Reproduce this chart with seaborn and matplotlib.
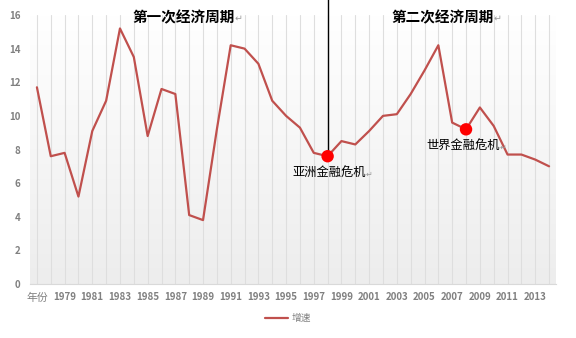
import numpy as np
import pandas as pd
import matplotlib
matplotlib.use("Agg")
import matplotlib.pyplot as plt
from matplotlib.colors import LinearSegmentedColormap
import seaborn as sns

# ---- data ----
categories = ["年份"] + [str(y) for y in range(1978, 2015)]
growth = [11.7, 7.6, 7.8, 5.2, 9.1, 10.9, 15.2, 13.5, 8.8, 11.6,
          11.3, 4.1, 3.8, 9.2, 14.2, 14.0, 13.1, 10.9, 10.0, 9.3,
          7.8, 7.6, 8.5, 8.3, 9.1, 10.0, 10.1, 11.3, 12.7, 14.2,
          9.6, 9.2, 10.5, 9.4, 7.7, 7.7, 7.4, 7.0]
series_name = "增速"
highlight_cats = ["1998", "2008"]
highlight_labels = ["亚洲金融危机", "世界金融危机"]
cycle_titles = ["第一次经济周期", "第二次经济周期"]
yticks = [0, 2, 4, 6, 8, 10, 12, 14, 16]

sns.set_theme(style="white")
plt.rcParams["font.family"] = ["Noto Sans CJK SC", "DejaVu Sans"]

W, H = 576, 338
fig = plt.figure(figsize=(W / 100, H / 100), dpi=100)
ax = fig.add_axes([30 / W, 1 - 284 / H, (556 - 30) / W, (284 - 15) / H])

df = pd.DataFrame({"pos": np.arange(len(categories)), "cat": categories, "val": growth})

# gradient background
cmap = LinearSegmentedColormap.from_list("bg", ["#ffffff", "#ededed"])
grad = np.linspace(0, 1, 256).reshape(-1, 1)
ax.imshow(grad, extent=[0, 1, 0, 1], transform=ax.transAxes, cmap=cmap,
          aspect="auto", zorder=0, origin="upper")

sns.lineplot(data=df, x="pos", y="val", ax=ax, color="#c0504d", linewidth=1.6,
             label=series_name, zorder=3)

hl = df[df["cat"].isin(highlight_cats)]
sns.scatterplot(data=hl, x="pos", y="val", ax=ax, color="#ff0000", s=80,
                edgecolor="none", zorder=5, legend=False)

# vertical divider from top to first crisis point
p0 = hl.iloc[0]
ax.plot([p0["pos"], p0["pos"]], [p0["val"], 17.2], color="black", lw=1.0,
        zorder=4, clip_on=False)

ax.set_xlim(-0.5, len(categories) - 0.5)
ax.set_ylim(0, 16)
ax.set_xticks(df["pos"])
ax.set_xticklabels([c if i % 2 == 0 else "" for i, c in enumerate(categories)])
ax.set_yticks(yticks)
ax.set_yticklabels([str(t) for t in yticks])
ax.tick_params(axis="x", length=0, pad=6, labelsize=7, labelcolor="#808080")
ax.tick_params(axis="y", length=0, pad=7, labelsize=7, labelcolor="#808080")
for lab in ax.get_xticklabels() + ax.get_yticklabels():
    lab.set_fontweight("bold")
first = ax.get_xticklabels()[0]
first.set_fontweight("normal")
first.set_fontsize(7.8)
ax.grid(axis="x", color="#dedede", lw=0.8, zorder=1)
ax.grid(axis="y", visible=False)
ax.set_xlabel("")
ax.set_ylabel("")
for s in ["left", "top", "right"]:
    ax.spines[s].set_visible(False)
ax.spines["bottom"].set_color("#d9d9d9")
ax.spines["bottom"].set_linewidth(0.8)

ret = "\u21b5"

def fig_text(x_end, y_c, txt, size, weight):
    fig.text(x_end / W, 1 - y_c / H, txt, ha="right", va="center",
             fontsize=size, fontweight=weight, color="black",
             family=["Noto Sans CJK SC", "DejaVu Sans"])
    fig.text(x_end / W, 1 - (y_c + 1) / H, ret, ha="left", va="center",
             fontsize=size * 0.65, color="#999999", family=["DejaVu Sans"])

fig_text(235, 17, cycle_titles[0], 10.5, "bold")
fig_text(494, 17, cycle_titles[1], 10.5, "bold")
fig_text(366, 173, highlight_labels[0], 8.8, "normal")
fig_text(500, 146, highlight_labels[1], 8.8, "normal")

leg = ax.legend(loc="center", bbox_to_anchor=(0.5, 1 - 318 / H),
                bbox_transform=fig.transFigure, frameon=False, fontsize=7,
                handlelength=2.4, handletextpad=0.4)
for t in leg.get_texts():
    t.set_color("#808080")

fig.savefig("out.png", dpi=100, facecolor="white")
